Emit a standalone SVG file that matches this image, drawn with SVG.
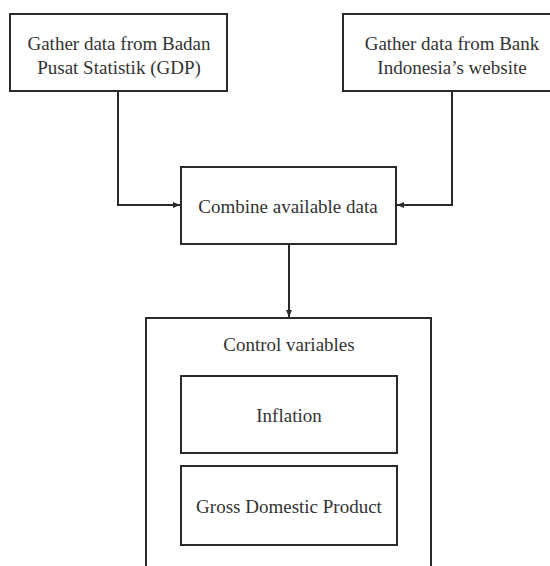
<svg xmlns="http://www.w3.org/2000/svg" width="550" height="566" viewBox="0 0 550 566">
<defs>
<marker id="arr" markerWidth="8" markerHeight="8" refX="7" refY="4" orient="auto" markerUnits="userSpaceOnUse">
<path d="M0,1 L7,4 L0,7 Z" fill="#2a2a2a"/>
</marker>
<style>
.box{fill:#ffffff;stroke:#2a2a2a;stroke-width:2}
.t{font-family:"Liberation Serif","Times New Roman",serif;font-size:19px;fill:#333333;text-anchor:middle}
.c{fill:none;stroke:#2a2a2a;stroke-width:2}
</style>
</defs>
<rect width="550" height="566" fill="#ffffff"/>
<g id="connectors">
<polyline class="c" points="118,91 118,205 180,205" marker-end="url(#arr)"/>
<polyline class="c" points="452,91 452,205 397,205" marker-end="url(#arr)"/>
<line class="c" x1="289" y1="244" x2="289" y2="317" marker-end="url(#arr)"/>
</g>
<g id="gather-bps">
<rect class="box" x="10" y="14" width="217" height="77"/>
<text class="t" x="119" y="50">Gather data from Badan</text>
<text class="t" x="119" y="74">Pusat Statistik (GDP)</text>
</g>
<g id="gather-bi">
<rect class="box" x="343" y="14" width="218" height="77"/>
<text class="t" x="452" y="50">Gather data from Bank</text>
<text class="t" x="452" y="74">Indonesia’s website</text>
</g>
<g id="combine">
<rect class="box" x="181" y="167" width="215" height="77"/>
<text class="t" x="288" y="213">Combine available data</text>
</g>
<g id="control-variables">
<rect class="box" x="146" y="318" width="285" height="270"/>
<text class="t" x="289" y="351">Control variables</text>
</g>
<g id="inflation">
<rect class="box" x="181" y="376" width="216" height="77"/>
<text class="t" x="289" y="422">Inflation</text>
</g>
<g id="gdp">
<rect class="box" x="181" y="466" width="216" height="79"/>
<text class="t" x="289" y="513">Gross Domestic Product</text>
</g>
</svg>
